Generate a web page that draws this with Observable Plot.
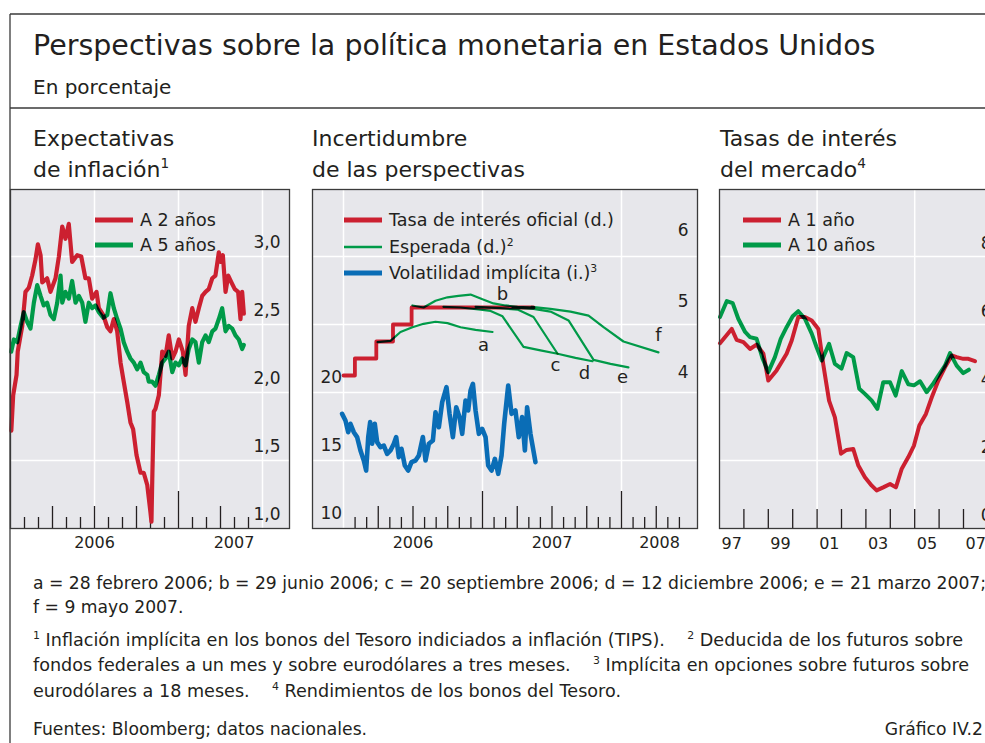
<!DOCTYPE html>
<html>
<head>
<meta charset="utf-8">
<script src="https://cdn.jsdelivr.net/npm/d3@7"></script>
<script src="https://cdn.jsdelivr.net/npm/@observablehq/plot@0.6"></script>
<style>
  html, body { margin: 0; padding: 0; background: #fff; overflow: hidden; }
  #root { position: relative; width: 985px; height: 743px; overflow: hidden; background: #fff; }
  #root svg { overflow: visible; }
</style>
</head>
<body>
<div id="root"></div>
<script>
// ---------------- DATA ----------------
// Panel 1: inflation expectations, [decimal year, %]
const infl2y = [
  [2006.005,1.72],[2006.016,1.98],[2006.036,2.13],[2006.043,2.30],[2006.070,2.49],[2006.089,2.74],
  [2006.109,2.77],[2006.129,2.86],[2006.149,2.98],[2006.163,3.09],[2006.179,3.01],[2006.189,2.81],
  [2006.218,2.84],[2006.238,2.74],[2006.268,2.84],[2006.288,3.00],[2006.308,3.22],[2006.327,3.13],
  [2006.347,3.24],[2006.367,2.96],[2006.397,3.01],[2006.421,3.00],[2006.446,2.84],[2006.466,2.84],
  [2006.486,2.69],[2006.512,2.74],[2006.526,2.62],[2006.552,2.57],[2006.576,2.48],[2006.595,2.45],
  [2006.615,2.54],[2006.635,2.45],[2006.655,2.22],[2006.674,2.08],[2006.695,1.93],[2006.714,1.78],
  [2006.730,1.73],[2006.750,1.54],[2006.774,1.41],[2006.793,1.41],[2006.814,1.32],[2006.833,1.12],
  [2006.839,1.05],[2006.844,1.37],[2006.853,1.86],[2006.863,1.88],[2006.883,1.98],[2006.903,2.30],
  [2006.923,2.27],[2006.942,2.42],[2006.963,2.25],[2006.982,2.30],[2007.002,2.39],[2007.026,2.30],
  [2007.042,2.13],[2007.061,2.49],[2007.082,2.62],[2007.101,2.52],[2007.121,2.62],[2007.141,2.71],
  [2007.161,2.74],[2007.180,2.76],[2007.201,2.84],[2007.220,2.86],[2007.240,3.03],[2007.250,2.96],
  [2007.264,3.01],[2007.280,2.74],[2007.296,2.86],[2007.315,2.81],[2007.335,2.76],[2007.355,2.74],
  [2007.369,2.54],[2007.379,2.74],[2007.389,2.58]
];
const infl5y = [
  [2006.004,2.30],[2006.020,2.39],[2006.040,2.37],[2006.060,2.49],[2006.079,2.59],[2006.099,2.52],
  [2006.119,2.47],[2006.139,2.66],[2006.159,2.79],[2006.179,2.71],[2006.198,2.64],[2006.218,2.66],
  [2006.238,2.57],[2006.258,2.54],[2006.278,2.66],[2006.298,2.86],[2006.308,2.66],[2006.327,2.74],
  [2006.347,2.69],[2006.367,2.82],[2006.387,2.66],[2006.407,2.71],[2006.427,2.66],[2006.446,2.52],
  [2006.466,2.66],[2006.486,2.62],[2006.506,2.64],[2006.526,2.59],[2006.552,2.55],[2006.576,2.57],
  [2006.595,2.73],[2006.615,2.62],[2006.635,2.54],[2006.655,2.47],[2006.674,2.37],[2006.695,2.30],
  [2006.714,2.25],[2006.734,2.22],[2006.754,2.17],[2006.774,2.22],[2006.793,2.15],[2006.814,2.13],
  [2006.823,2.08],[2006.843,2.08],[2006.863,2.05],[2006.883,2.13],[2006.903,2.22],[2006.923,2.25],
  [2006.942,2.30],[2006.963,2.15],[2006.982,2.22],[2007.002,2.20],[2007.022,2.25],[2007.042,2.20],
  [2007.061,2.32],[2007.082,2.39],[2007.101,2.37],[2007.121,2.22],[2007.141,2.37],[2007.161,2.42],
  [2007.180,2.37],[2007.201,2.45],[2007.220,2.47],[2007.240,2.54],[2007.260,2.62],[2007.280,2.45],
  [2007.299,2.49],[2007.320,2.47],[2007.339,2.42],[2007.359,2.39],[2007.379,2.32],[2007.389,2.35]
];
const p1YTicks = [1.0, 1.5, 2.0, 2.5, 3.0];
const p1YearLabels = ["2006", "2007"];

// Panel 2: policy rate (right axis, %), expected paths, implied volatility (left axis)
const fedFunds = [[2006.000,4.25],[2006.082,4.50],[2006.236,4.75],[2006.356,5.00],[2006.490,5.25],[2007.367,5.25]];
const curveA = [[2006.245,4.74],[2006.338,4.76],[2006.410,4.89],[2006.496,4.96],[2006.576,5.01],[2006.662,5.04],[2006.748,5.02],[2006.842,4.96],[2006.950,4.92],[2007.072,4.89]];
const curveB = [[2006.496,5.28],[2006.576,5.25],[2006.662,5.35],[2006.748,5.40],[2006.827,5.42],[2006.914,5.44],[2007.000,5.37],[2007.079,5.31],[2007.165,5.28],[2007.252,5.26],[2007.367,5.25]];
const curveC = [[2006.719,5.26],[2006.842,5.25],[2006.986,5.22],[2007.058,5.20],[2007.144,5.12],[2007.295,4.67],[2007.417,4.62],[2007.540,4.57]];
const curveD = [[2006.950,5.26],[2007.129,5.24],[2007.252,5.22],[2007.367,5.11],[2007.540,4.57],[2007.669,4.51],[2007.791,4.46]];
const curveE = [[2007.216,5.25],[2007.367,5.23],[2007.489,5.19],[2007.619,5.06],[2007.799,4.48],[2007.921,4.42],[2008.050,4.37]];
const curveF = [[2007.353,5.26],[2007.489,5.23],[2007.633,5.19],[2007.763,5.13],[2007.871,4.96],[2008.014,4.75],[2008.266,4.59]];
const curveLabels = [
  {label: "a", t: 2007.007, v: 4.69}, {label: "b", t: 2007.144, v: 5.44},
  {label: "c", t: 2007.525, v: 4.40}, {label: "d", t: 2007.734, v: 4.28},
  {label: "e", t: 2008.007, v: 4.22}, {label: "f", t: 2008.266, v: 4.84}
];
const impliedVol = [
  [2005.990,18.43],[2006.014,17.94],[2006.034,17.08],[2006.050,17.70],[2006.074,17.08],[2006.098,16.72],
  [2006.122,15.74],[2006.146,15.00],[2006.163,14.26],[2006.178,16.72],[2006.192,17.82],[2006.206,16.23],
  [2006.225,17.70],[2006.242,16.35],[2006.266,15.98],[2006.290,16.10],[2006.314,15.49],[2006.338,15.74],
  [2006.362,16.23],[2006.379,16.72],[2006.398,15.25],[2006.417,15.86],[2006.441,14.63],[2006.465,14.26],
  [2006.489,14.88],[2006.518,15.00],[2006.542,15.37],[2006.571,16.72],[2006.590,15.00],[2006.614,16.23],
  [2006.643,16.47],[2006.662,18.55],[2006.686,17.45],[2006.710,19.29],[2006.741,20.39],[2006.763,18.43],
  [2006.787,16.72],[2006.811,18.92],[2006.835,18.19],[2006.854,16.96],[2006.878,19.41],[2006.897,18.68],
  [2006.914,20.15],[2006.931,20.64],[2006.950,18.68],[2006.974,16.96],[2006.998,17.33],[2007.022,16.72],
  [2007.041,14.63],[2007.065,14.26],[2007.089,15.12],[2007.113,14.02],[2007.137,15.37],[2007.156,17.70],
  [2007.185,20.51],[2007.209,18.43],[2007.237,18.68],[2007.261,16.72],[2007.285,18.19],[2007.305,15.74],
  [2007.321,18.92],[2007.345,16.96],[2007.381,14.88]
];
const p2LeftTicks = [10, 15, 20];
const p2RightTicks = [4, 5, 6];
const p2YearLabels = ["2006", "2007", "2008"];

// Panel 3: Treasury yields, [decimal year, %]
const yield1y = [
  [1997.02,5.45],[1997.50,5.87],[1997.70,5.55],[1997.98,5.48],[1998.25,5.28],[1998.52,5.41],[1998.80,5.14],
  [1999.00,4.35],[1999.34,4.65],[1999.75,5.14],[1999.96,5.53],[2000.23,6.22],[2000.50,6.22],[2000.78,6.12],
  [2001.05,5.87],[2001.25,4.84],[2001.49,3.76],[2001.73,3.27],[2001.98,2.20],[2002.21,2.31],[2002.48,2.34],
  [2002.69,1.85],[2002.96,1.51],[2003.24,1.26],[2003.44,1.12],[2003.71,1.21],[2003.99,1.31],[2004.23,1.21],
  [2004.47,1.76],[2004.74,2.10],[2004.97,2.44],[2005.19,3.03],[2005.46,3.37],[2005.70,3.86],[2005.97,4.35],
  [2006.24,4.74],[2006.52,5.09],[2006.72,5.04],[2006.99,4.99],[2007.20,4.99],[2007.47,4.92]
];
const yield10y = [
  [1997.02,6.22],[1997.30,6.69],[1997.54,6.63],[1997.77,6.17],[1998.05,5.78],[1998.25,5.63],[1998.52,5.58],
  [1998.77,4.99],[1999.00,4.60],[1999.27,5.04],[1999.51,5.58],[1999.75,5.92],[2000.00,6.24],[2000.23,6.39],
  [2000.50,6.17],[2000.78,5.73],[2000.98,5.33],[2001.19,4.94],[2001.49,5.43],[2001.73,4.84],[2002.00,4.70],
  [2002.21,5.16],[2002.48,5.04],[2002.73,4.11],[2002.96,3.96],[2003.24,3.76],[2003.47,3.52],[2003.71,4.30],
  [2003.99,4.30],[2004.22,3.91],[2004.47,4.63],[2004.74,4.24],[2004.97,4.21],[2005.22,4.33],[2005.49,4.01],
  [2005.74,4.24],[2005.97,4.50],[2006.24,4.79],[2006.45,5.16],[2006.72,4.79],[2006.99,4.57],[2007.22,4.67]
];
const p3YTicks = [0, 2, 4, 6, 8];
const p3YearLabels = ["97", "99", "01", "03", "05", "07"];

// ---------------- STYLE ----------------
const FONT = '"DejaVu Sans", "Liberation Sans", sans-serif';
const RED = "#cc2030", GREEN = "#009a48", BLUE = "#0a6db6", BG = "#e7e7eb", INK = "#231f20", FRAME = "#3a3a3a";
const PH = 339;            // plot box height (px)
const root = document.getElementById("root");
const comma = d => d3.format(".1f")(d).replace(".", ",");

function isolateLines(svg) {
  const lines = svg.querySelectorAll('g[aria-label="line"]');
  if (!lines.length) return;
  const g = document.createElementNS("http://www.w3.org/2000/svg", "g");
  g.setAttribute("style", "isolation:isolate");
  lines[0].parentNode.insertBefore(g, lines[0]);
  lines.forEach(l => g.appendChild(l));
}

function place(svg, left, top) {
  isolateLines(svg);
  svg.style.position = "absolute";
  svg.style.left = (left - 1) + "px";
  svg.style.top = (top - 1) + "px";
  svg.style.zIndex = 1;
  root.appendChild(svg);
}

function base(w, xDomain, yDomain, marks) {
  return Plot.plot({
    width: w + 2, height: PH + 31,
    marginTop: 1, marginLeft: 1, marginRight: 1, marginBottom: 30,
    x: {domain: xDomain, axis: null},
    y: {domain: yDomain, axis: null},
    style: {fontFamily: FONT, color: INK, background: "transparent", overflow: "visible"},
    marks
  });
}

function monthTicks(from, to, startYear) {
  const small = [], mid = [], tall = [];
  for (let m = from; m <= to; m++) {
    const t = startYear + m / 12;
    if (m % 12 === 0) tall.push(t); else if (m % 3 === 0) mid.push(t); else small.push(t);
  }
  return [
    Plot.ruleX(small, {x: d => d, insetTop: PH - 11, stroke: INK, strokeWidth: 1.3}),
    Plot.ruleX(mid, {x: d => d, insetTop: PH - 22, stroke: INK, strokeWidth: 1.3}),
    Plot.ruleX(tall, {x: d => d, insetTop: PH - 37, stroke: INK, strokeWidth: 1.3})
  ];
}

function yearLabelPos(labels, firstYear, xDomain) {
  return labels.map((label, i) => {
    const y0 = firstYear + i;
    const a = Math.max(y0, xDomain[0]), b = Math.min(y0 + 1, xDomain[1]);
    return {label, t: (a + b) / 2};
  });
}

// ---------------- PANEL 1 ----------------
{
  const w = 279;
  const xD = [2006, 2006 + w / 168], yD = [1, 1 + PH / 136];
  const svg = base(w, xD, yD, [
    Plot.frame({fill: BG}),
    Plot.ruleY([1.5, 2.0, 2.5, 3.0], {y: d => d, stroke: "#fff", strokeWidth: 1.5}),
    Plot.ruleX([2006.5, 2007, 2007.5], {x: d => d, stroke: "#fff", strokeWidth: 1.5}),
    ...monthTicks(1, 17, 2006),
    Plot.line(infl2y, {x: d => d[0], y: d => d[1], stroke: RED, strokeWidth: 4.2, strokeLinejoin: "round"}),
    Plot.line(infl5y, {x: d => d[0], y: d => d[1], stroke: GREEN, strokeWidth: 4.2, strokeLinejoin: "round", mixBlendMode: "multiply"}),
    Plot.text(p1YTicks, {y: d => d, text: comma, frameAnchor: "right", textAnchor: "end", lineAnchor: "middle", dx: -9, dy: -14, fontSize: 17, fill: INK}),
    Plot.text(yearLabelPos(p1YearLabels, 2006, xD), {x: "t", text: "label", frameAnchor: "bottom", lineAnchor: "bottom", dy: 19, fontSize: 16, fill: INK}),
    Plot.frame({stroke: FRAME, strokeWidth: 1.3})
  ]);
  place(svg, 10, 189);
}

// ---------------- PANEL 2 ----------------
{
  const w = 385;
  const xD = [2006 - 31 / 139, 2006 + 354 / 139], yD = [2, 2 + PH / 68];
  const volToY = v => 2 + (v - 10) / 5;
  const greenOpts = {x: d => d[0], y: d => d[1], stroke: GREEN, strokeWidth: 2.2, strokeLinejoin: "round", mixBlendMode: "multiply"};
  const svg = base(w, xD, yD, [
    Plot.frame({fill: BG}),
    Plot.ruleY([3, 4, 5, 6], {y: d => d, stroke: "#fff", strokeWidth: 1.5}),
    Plot.ruleX([2006, 2007, 2008], {x: d => d, stroke: "#fff", strokeWidth: 1.5}),
    ...monthTicks(1, 29, 2006),
    Plot.line(impliedVol, {x: d => d[0], y: d => volToY(d[1]), stroke: BLUE, strokeWidth: 4.6, strokeLinejoin: "round"}),
    Plot.line(fedFunds, {x: d => d[0], y: d => d[1], curve: "step-after", stroke: RED, strokeWidth: 3.8}),
    ...[curveA, curveB, curveC, curveD, curveE, curveF].map(c => Plot.line(c, greenOpts)),
    Plot.text(curveLabels, {x: "t", y: "v", text: "label", fontSize: 18, fill: INK}),
    Plot.text(p2LeftTicks, {y: volToY, text: d => String(d), frameAnchor: "left", textAnchor: "start", lineAnchor: "middle", dx: 8, dy: -15, fontSize: 17, fill: INK}),
    ...p2RightTicks.map(v => Plot.text([v], {y: d => d, text: d => String(d), frameAnchor: "right", textAnchor: "end", lineAnchor: "middle", dx: -9, dy: -20 - 3 * (v - 4), fontSize: 17, fill: INK})),
    Plot.text(yearLabelPos(p2YearLabels, 2006, xD), {x: "t", text: "label", frameAnchor: "bottom", lineAnchor: "bottom", dy: 19, fontSize: 16, fill: INK}),
    Plot.frame({stroke: FRAME, strokeWidth: 1.3})
  ]);
  place(svg, 312, 189);
}

// ---------------- PANEL 3 ----------------
{
  const w = 281;
  const xD = [1997, 1997 + w / 24.4], yD = [0, PH / 34];
  const yearTicks = d3.range(1998, 2008);
  const labels = p3YearLabels.map((label, i) => ({label, t: 1997 + 2 * i + 0.5}));
  const svg = base(w, xD, yD, [
    Plot.frame({fill: BG}),
    Plot.ruleY([2, 4, 6, 8], {y: d => d, stroke: "#fff", strokeWidth: 1.5}),
    Plot.ruleX([2001, 2005], {x: d => d, stroke: "#fff", strokeWidth: 1.5}),
    Plot.ruleX(yearTicks, {x: d => d, insetTop: PH - 19, stroke: INK, strokeWidth: 1.3}),
    Plot.line(yield1y, {x: d => d[0], y: d => d[1], stroke: RED, strokeWidth: 4, strokeLinejoin: "round"}),
    Plot.line(yield10y, {x: d => d[0], y: d => d[1], stroke: GREEN, strokeWidth: 4, strokeLinejoin: "round", mixBlendMode: "multiply"}),
    Plot.text(p3YTicks, {y: d => d, text: d => String(d), frameAnchor: "right", textAnchor: "end", lineAnchor: "middle", dx: -9, dy: -13, fontSize: 17, fill: INK}),
    Plot.text(labels, {x: "t", text: "label", frameAnchor: "bottom", lineAnchor: "bottom", dy: 20, fontSize: 16, fill: INK}),
    Plot.frame({stroke: FRAME, strokeWidth: 1.3})
  ]);
  place(svg, 719, 189);
}

// ---------------- OVERLAY: frame, titles, legends, notes ----------------
const ov = d3.create("svg")
  .attr("width", 985).attr("height", 743)
  .style("position", "absolute").style("left", "0px").style("top", "0px")
  .style("z-index", 2).style("pointer-events", "none")
  .style("font-family", FONT).style("fill", INK);

ov.append("line").attr("x1", 10).attr("x2", 985).attr("y1", 14).attr("y2", 14).attr("stroke", FRAME).attr("stroke-width", 1.3);
ov.append("line").attr("x1", 10).attr("x2", 10).attr("y1", 14).attr("y2", 743).attr("stroke", FRAME).attr("stroke-width", 1.3);
ov.append("line").attr("x1", 10).attr("x2", 985).attr("y1", 108).attr("y2", 108).attr("stroke", FRAME).attr("stroke-width", 1.3);

function txt(x, y, size, parts, anchor) {
  const t = ov.append("text").attr("x", x).attr("y", y).attr("font-size", size)
    .attr("text-anchor", anchor || "start").style("white-space", "pre").attr("fill", INK);
  let sup = false;
  (Array.isArray(parts) ? parts : [[parts, false]]).forEach(([s, isSup]) => {
    const ts = t.append("tspan").text(s);
    if (isSup && !sup) { ts.attr("font-size", size * 0.62).attr("dy", -size * 0.42); sup = true; }
    else if (isSup) { ts.attr("font-size", size * 0.62); }
    else if (sup) { ts.attr("dy", size * 0.42); sup = false; }
  });
  return t;
}

txt(33, 55, 28.5, "Perspectivas sobre la política monetaria en Estados Unidos");
txt(33, 94, 20, "En porcentaje");

txt(33, 146, 22, "Expectativas");
txt(33, 177, 22, [["de inflación", false], ["1", true]]);
txt(312, 146, 22, "Incertidumbre");
txt(312, 177, 22, "de las perspectivas");
txt(720, 146, 22, "Tasas de interés");
txt(720, 177, 22, [["del mercado", false], ["4", true]]);

function legend(x, y, color, width, parts) {
  ov.append("line").attr("x1", x).attr("x2", x + 38).attr("y1", y).attr("y2", y)
    .attr("stroke", color).attr("stroke-width", width);
  txt(x + 45, y + 6, 17.5, parts);
}
legend(95, 220, RED, 5, "A 2 años");
legend(95, 245, GREEN, 5, "A 5 años");
legend(344, 220, RED, 5, "Tasa de interés oficial (d.)");
legend(344, 247, GREEN, 2.7, [["Esperada (d.)", false], ["2", true]]);
legend(344, 273, BLUE, 5, [["Volatilidad implícita (i.)", false], ["3", true]]);
legend(743, 220, RED, 5, "A 1 año");
legend(743, 245, GREEN, 5, "A 10 años");

const FS = 17.2, FN = 17.6;
txt(33, 589, FS, "a = 28 febrero 2006; b = 29 junio 2006; c = 20 septiembre 2006; d = 12 diciembre 2006; e = 21 marzo 2007;");
txt(33, 613, FS, "f = 9 mayo 2007.");
txt(33, 646, FN, [["1", true], [" Inflación implícita en los bonos del Tesoro indiciados a inflación (TIPS).    ", false], ["2", true], [" Deducida de los futuros sobre", false]]);
txt(33, 671, FN, [["fondos federales a un mes y sobre eurodólares a tres meses.    ", false], ["3", true], [" Implícita en opciones sobre futuros sobre", false]]);
txt(33, 697, FN, [["eurodólares a 18 meses.    ", false], ["4", true], [" Rendimientos de los bonos del Tesoro.", false]]);
txt(33, 735, FS, "Fuentes: Bloomberg; datos nacionales.");
txt(983, 735, FS, "Gráfico IV.2", "end");

root.appendChild(ov.node());
</script>
</body>
</html>
